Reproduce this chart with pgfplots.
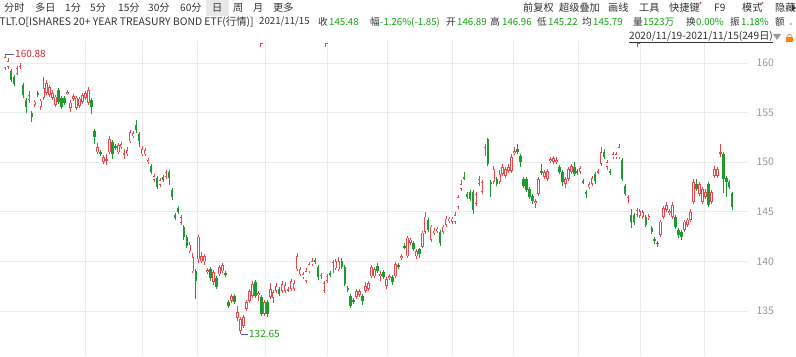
\documentclass[border=0pt]{standalone}
\usepackage{pgfplots}
\pgfplotsset{compat=1.18}
\usepackage{pgfplotstable}
\usepackage{fontspec}
\setmainfont{Noto Sans CJK SC}
\definecolor{upc}{HTML}{E8474B}
\definecolor{dnc}{HTML}{1E9A2E}
\definecolor{txt}{HTML}{333333}
\definecolor{grn}{HTML}{13A113}
\definecolor{gridc}{HTML}{EBEBEB}
\definecolor{tickc}{HTML}{9A9A9A}
\definecolor{redt}{HTML}{D9262C}

\pgfplotstableread{
i o h l c
0 159.5 160.88 159.3 160.6
1 159.6 160.5 159.4 160.2
4 158.9 159.7 158.8 159.5
5 159.5 160.0 159.4 159.7
8 156.3 157.2 156.0 156.8
10 155.8 156.3 155.6 156.1
12 155.6 156.4 155.3 156.2
13 156.5 158.6 156.3 157.5
14 157.0 158.3 156.8 158.0
15 156.8 157.8 156.6 157.6
16 156.5 157.3 156.3 157.0
17 155.8 156.8 155.6 156.6
21 156.9 157.3 156.8 157.1
22 155.5 156.3 155.1 156.0
23 156.4 156.9 156.2 156.7
24 155.5 156.7 155.3 156.5
25 155.7 156.6 155.5 156.4
26 156.1 157.0 155.9 156.8
27 156.5 157.2 156.3 157.0
28 156.0 157.6 155.8 157.3
31 151.0 151.9 150.8 151.5
33 150.0 150.7 149.8 150.5
34 150.2 150.8 149.7 150.3
35 151.0 152.6 150.8 152.3
38 151.0 151.9 150.8 151.7
39 151.5 152.0 151.3 151.8
40 150.8 151.3 150.3 150.9
41 150.8 151.5 150.6 151.2
42 152.1 153.2 151.9 153.0
43 152.6 153.1 152.4 152.9
46 150.8 151.6 150.6 151.3
47 150.8 151.4 150.6 151.2
48 150.0 150.4 149.8 150.2
50 148.2 148.8 148.0 148.6
52 147.7 148.4 147.5 148.2
54 148.5 149.2 148.3 149.0
59 143.9 144.7 143.7 144.5
62 141.0 142.0 140.8 141.7
63 139.0 140.8 138.8 140.4
65 140.2 142.7 139.8 142.5
66 140.0 140.9 139.8 140.5
67 140.0 140.7 139.6 140.5
68 138.9 139.3 138.7 139.1
70 137.9 139.1 137.6 138.9
72 138.7 139.6 138.5 139.4
73 139.0 139.8 138.8 139.6
76 136.0 136.7 135.8 136.5
78 134.3 135.5 134.0 134.9
79 133.0 134.4 132.65 134.2
80 133.5 134.6 133.3 134.4
81 135.2 136.1 135.0 135.9
82 136.0 137.2 135.8 137.0
83 136.5 138.0 136.3 137.7
85 136.6 137.0 136.0 136.8
87 134.7 136.1 134.5 135.9
89 136.4 137.8 136.2 137.2
90 136.3 137.1 135.8 136.9
91 137.0 137.8 136.8 137.5
93 137.0 138.0 136.8 137.7
94 137.0 137.9 136.8 137.6
95 137.1 137.4 136.9 137.2
96 137.2 138.2 137.0 138.0
97 137.2 138.1 137.0 137.8
98 139.2 140.8 139.0 140.5
99 138.7 139.4 138.5 139.2
100 138.4 138.9 138.2 138.7
101 138.0 139.3 137.8 139.0
102 139.0 139.9 138.8 139.7
103 139.7 140.3 139.5 140.0
106 138.4 138.8 138.2 138.6
107 137.0 138.0 136.8 137.8
108 138.0 138.7 137.8 138.5
110 139.0 140.1 138.8 139.9
111 139.3 140.2 139.1 140.0
112 139.2 140.4 139.0 140.0
118 136.4 137.2 136.2 137.0
119 136.6 137.2 136.4 137.0
121 137.0 137.9 136.8 137.5
122 137.2 138.0 137.0 137.8
123 138.5 139.6 138.3 139.4
124 138.5 139.4 138.3 139.2
126 138.5 139.0 138.0 138.7
128 137.5 138.4 137.2 138.2
129 138.3 138.7 138.1 138.5
131 138.5 139.9 138.3 139.7
133 140.3 140.7 140.1 140.5
135 140.5 142.6 140.3 142.4
136 141.9 142.4 141.7 142.2
138 140.5 141.3 140.2 141.0
140 141.5 143.1 141.3 142.9
141 143.0 145.0 142.8 144.5
143 142.2 143.7 142.0 143.5
144 142.9 143.4 142.7 143.1
145 143.1 143.5 142.9 143.3
147 143.0 143.7 142.8 143.5
148 143.7 144.6 143.5 144.3
149 144.1 144.5 143.9 144.3
150 144.0 144.5 143.8 144.3
151 144.0 145.0 143.8 144.7
152 145.5 146.7 145.3 146.5
153 147.3 148.2 147.1 147.8
158 145.8 147.0 145.6 146.8
159 147.8 148.6 147.6 148.3
160 147.0 148.2 146.8 148.0
161 150.8 151.8 150.6 151.5
164 148.0 149.6 147.8 149.3
166 148.0 149.2 147.8 148.8
167 148.8 149.8 148.6 149.5
168 148.6 149.5 148.4 149.3
169 149.1 149.8 148.9 149.5
170 149.1 150.8 148.9 150.5
171 150.9 151.5 150.7 151.1
178 145.9 146.3 145.4 146.1
179 146.8 148.5 146.6 148.3
181 148.5 149.2 148.3 149.0
182 148.3 149.3 148.1 149.1
183 150.1 150.5 149.9 150.3
184 150.0 150.6 149.8 150.4
185 150.0 150.5 149.8 150.2
188 147.8 148.5 147.4 148.3
189 148.3 149.5 148.1 149.3
190 149.0 149.8 148.8 149.6
193 149.0 149.6 148.8 149.4
196 147.5 148.0 147.3 147.8
197 147.8 148.6 147.6 148.4
199 149.0 149.3 148.8 149.1
200 149.8 151.5 149.6 151.0
202 149.5 150.2 149.2 150.0
204 150.5 151.0 150.3 150.8
205 150.5 151.0 150.3 150.8
206 150.5 151.8 150.3 151.5
209 146.3 146.7 145.9 146.5
212 144.7 145.4 144.5 145.2
213 144.6 145.3 144.4 145.1
214 144.5 145.2 144.3 145.0
216 144.4 144.8 144.2 144.6
220 142.7 144.2 142.5 144.0
221 144.5 145.6 144.3 145.4
222 145.2 146.0 145.0 145.7
223 144.9 145.3 144.7 145.1
224 144.5 146.0 144.3 145.7
228 143.2 144.2 143.0 144.0
229 143.7 144.4 143.5 144.2
230 144.2 145.3 144.0 145.0
231 146.0 148.3 145.8 148.0
233 146.8 148.0 146.6 147.8
234 146.0 147.5 145.8 147.3
235 146.5 147.3 146.3 147.0
237 146.0 147.2 145.8 147.0
238 148.6 149.6 148.4 149.3
239 148.6 149.5 148.4 149.3
240 150.9 151.8 150.5 151.0
}\up

\pgfplotstableread{
i o h l c
2 159.2 159.4 158.1 158.3
3 158.6 158.8 157.7 157.9
6 157.8 158.0 156.5 156.8
7 156.3 156.5 155.0 155.6
9 155.0 155.2 154.1 154.6
11 157.0 157.2 156.6 156.8
18 157.3 157.5 155.9 156.1
19 156.5 156.7 155.4 155.6
20 156.5 156.7 155.8 156.0
29 156.3 156.5 154.9 155.6
30 153.1 153.3 151.8 152.5
32 151.0 151.2 150.6 150.8
36 152.0 152.2 150.3 150.8
37 151.6 151.8 151.2 151.4
44 153.8 154.3 152.9 153.2
45 152.8 153.0 151.5 152.1
49 149.6 149.8 148.8 149.0
51 148.4 148.6 147.3 147.5
53 148.5 148.7 148.0 148.2
55 149.0 149.2 147.7 148.4
56 147.2 147.4 146.2 146.5
57 144.7 144.9 144.2 144.4
58 145.4 145.6 144.8 145.0
60 143.5 143.7 142.2 142.5
61 142.5 142.7 141.4 141.6
64 139.0 139.2 136.2 138.0
69 139.2 139.4 138.0 138.3
71 138.3 138.5 137.2 137.4
74 138.8 139.0 138.4 138.6
75 135.9 136.1 135.3 135.5
77 136.5 136.7 135.7 135.9
84 137.9 138.1 136.3 136.5
86 136.4 136.6 134.5 134.7
88 135.9 136.1 134.4 134.7
92 137.2 137.4 136.5 136.7
104 140.1 140.3 139.7 139.9
105 139.4 139.6 138.1 138.4
109 138.8 139.0 138.4 138.6
113 140.0 140.3 139.2 139.4
114 139.4 139.6 137.5 137.7
115 137.3 137.5 136.9 137.1
116 136.5 136.7 135.3 135.5
117 136.1 136.3 135.7 135.9
120 136.5 136.7 135.6 136.0
125 139.5 139.8 138.8 139.0
127 138.9 139.1 138.2 138.4
130 138.4 138.6 137.6 137.9
132 139.6 139.8 139.2 139.4
134 141.6 141.9 141.2 141.4
137 141.9 142.1 141.0 141.2
139 141.2 141.4 140.3 140.7
142 144.2 144.4 143.0 143.2
146 143.0 143.2 141.6 141.9
154 148.5 149.0 148.2 148.4
155 146.8 147.0 146.3 146.5
156 147.0 147.2 146.1 146.3
157 147.0 147.2 144.8 145.2
162 152.3 152.4 149.6 149.8
163 148.0 148.2 146.5 147.9
165 148.3 148.5 147.6 147.8
172 151.3 151.8 150.8 151.0
173 150.6 150.8 149.5 150.0
174 148.3 148.5 147.4 147.6
175 148.3 148.5 147.0 147.2
176 147.3 147.5 146.3 146.5
177 146.6 146.8 145.8 146.1
180 149.1 149.8 148.7 148.9
186 149.5 149.7 148.8 149.0
187 149.0 149.2 147.6 148.0
191 149.5 150.0 148.6 148.8
192 149.1 149.3 148.7 148.9
194 148.1 148.3 147.8 148.0
195 147.0 147.2 146.4 146.8
198 148.8 149.0 147.8 148.1
201 151.0 151.3 150.3 150.5
203 149.1 149.3 148.7 149.0
207 150.2 150.4 148.1 148.3
208 147.6 147.8 146.6 146.8
210 144.7 145.3 143.4 144.0
211 144.7 144.9 143.7 144.0
215 144.5 144.7 143.5 143.7
217 143.4 143.6 142.8 143.0
218 142.3 142.5 141.8 142.1
219 141.9 142.1 141.5 141.8
225 144.5 144.7 143.3 143.5
226 143.2 143.4 142.4 142.7
227 143.0 143.2 142.2 142.5
232 147.8 148.3 147.1 147.3
236 147.8 148.0 145.5 145.7
241 150.8 151.0 146.9 148.3
242 148.4 148.6 146.5 148.0
243 148.0 148.2 147.3 147.5
244 146.89 146.96 145.22 145.48
}\dn

\pgfplotstableread{
x y
26.8 200
46.0 200
64.4 200
87.2 200
108.1 200
128.2 200
150.0 200
170.5 200
192.3 200
213.1 200
234.6 200
}\vgrid

\newcommand\hf{\fontsize{10.2}{12}\selectfont}
\newcommand\hs{\fontsize{9.7}{12}\selectfont}
\pgfplotsset{candle/.style={draw=none, mark=none, forget plot}}

\begin{document}
\begin{tikzpicture}[x=1bp,y=1bp]
\useasboundingbox (0,0) rectangle (796,356);
\fill[white] (0,0) rectangle (796,356);
\begin{axis}[
  at={(0,0)}, anchor=south west,
  scale only axis, width=748bp, height=314bp,
  xmin=-1.68, xmax=249.3, ymin=130.46, ymax=162.12,
  axis line style={draw=none},
  major tick length=0pt,
  xtick=\empty,
  ytick={135,140,145,150,155,160},
  yticklabel pos=right,
  ymajorgrids,
  grid style={draw=gridc, line width=0.7bp},
  /pgf/number format/assume math mode=true,
  yticklabel style={font=\fontsize{10.5}{12}\selectfont, text=tickc, anchor=west, xshift=5bp},
]
% vertical month grid
\addplot[ycomb, mark=none, draw=gridc, line width=0.7bp, forget plot] table[x=x,y=y] {\vgrid};
% up candles: wick, body, hollow inside
\addplot[candle, error bars/.cd, y dir=both, y explicit, error mark=none,
  error bar style={draw=upc, line width=0.7bp}]
  table[x=i, y expr={(\thisrow{h}+\thisrow{l})/2},
        y error plus expr={(\thisrow{h}-\thisrow{l})/2},
        y error minus expr={(\thisrow{h}-\thisrow{l})/2}] {\up};
\addplot[candle, error bars/.cd, y dir=both, y explicit, error mark=none,
  error bar style={draw=upc, line width=2.5bp}]
  table[x=i, y expr={(\thisrow{o}+\thisrow{c})/2},
        y error plus expr={max((\thisrow{c}-\thisrow{o})/2,0.05)},
        y error minus expr={max((\thisrow{c}-\thisrow{o})/2,0.05)}] {\up};
\addplot[candle, error bars/.cd, y dir=both, y explicit, error mark=none,
  error bar style={draw=white, line width=1.1bp}]
  table[x=i, y expr={(\thisrow{o}+\thisrow{c})/2},
        y error plus expr={max((\thisrow{c}-\thisrow{o})/2-0.075,0)},
        y error minus expr={max((\thisrow{c}-\thisrow{o})/2-0.075,0)}] {\up};
% down candles
\addplot[candle, error bars/.cd, y dir=both, y explicit, error mark=none,
  error bar style={draw=dnc, line width=0.7bp}]
  table[x=i, y expr={(\thisrow{h}+\thisrow{l})/2},
        y error plus expr={(\thisrow{h}-\thisrow{l})/2},
        y error minus expr={(\thisrow{h}-\thisrow{l})/2}] {\dn};
\addplot[candle, error bars/.cd, y dir=both, y explicit, error mark=none,
  error bar style={draw=dnc, line width=2.5bp}]
  table[x=i, y expr={(\thisrow{o}+\thisrow{c})/2},
        y error plus expr={max((\thisrow{o}-\thisrow{c})/2,0.05)},
        y error minus expr={max((\thisrow{o}-\thisrow{c})/2,0.05)}] {\dn};
% extreme annotations
\draw[color=gray!70!blue, line width=0.6bp] (axis cs:0.5,160.88) -- (axis cs:3,160.88)
  node[right, inner sep=1bp, text=redt, font=\fontsize{10}{12}\selectfont] {160.88};
\draw[color=gray!70!blue, line width=0.6bp] (axis cs:79.3,132.65) -- (axis cs:81.5,132.65)
  node[right, inner sep=1bp, text=grn, font=\fontsize{10}{12}\selectfont] {132.65};
\end{axis}

% top event flags
\foreach \xx in {260,325,637}{
  \fill[upc] (\xx,309) rectangle ++(1.2,4);
  \fill[upc] (\xx,312) rectangle ++(3,1.2);
}

% header row 1
\begin{scope}[every node/.style={anchor=west, inner sep=0pt, text=txt, font=\hf}]
\fill[gray!18] (206,340) rectangle (229,356);
\node at (4,348) {分时};
\node at (35,348) {多日};
\node at (65,348) {1分};
\node at (90,348) {5分};
\node at (118,348) {15分};
\node at (148,348) {30分};
\node at (180,348) {60分};
\node at (212,348) {日};
\node at (233,348) {周};
\node at (253,348) {月};
\node at (273,348) {更多};
\node at (523,348) {前复权};
\node at (559,348) {超级叠加};
\node at (608,348) {画线};
\node at (639,348) {工具};
\node at (669,348) {快捷键};
\fill[upc] (700.5,353) circle (1.2);
\node at (714,348) {F9};
\node at (742,348) {模式};
\fill[upc] (762.5,353) circle (1.2);
\node at (775,348) {隐藏};
\fill[txt] (796,348) -- (792,351) -- (792,345) -- cycle;

% header row 2
\node[font=\fontsize{10.4}{12}\selectfont] at (-0.5,334) {TLT.O[ISHARES 20+ YEAR TREASURY BOND ETF(行情)]};
\begin{scope}[every node/.append style={font=\hs}]
\node at (259,334) {2021/11/15};
\node at (318,334) {收};
\node[text=grn] at (329,334) {145.48};
\node at (370,334) {幅};
\node[text=grn] at (380,334) {-1.26\%(-1.85)};
\node at (446,334) {开};
\node[text=grn] at (457,334) {146.89};
\node at (490,334) {高};
\node[text=grn] at (502,334) {146.96};
\node at (537,334) {低};
\node[text=grn] at (548,334) {145.22};
\node at (582,334) {均};
\node[text=grn] at (593,334) {145.79};
\node at (633,334) {量};
\node[text=grn] at (643,334) {1523万};
\node at (686,334) {换};
\node[text=grn] at (696,334) {0.00\%};
\node at (730,334) {振};
\node[text=grn] at (741,334) {1.18\%};
\node at (775,334) {额};
\end{scope}
\fill[upc] (791,332) circle (0.8);

% header row 3
\node at (629,319) {\underline{2020/11/19-2021/11/15(249日)}};
\fill[gray!80] (773,322) -- (781,322) -- (777,316) -- cycle;
\fill[orange] (786,314) rectangle (793,319.5);
\draw[orange, line width=0.8bp] (787.5,319.5) arc (180:0:2);
\end{scope}
\end{tikzpicture}
\end{document}
